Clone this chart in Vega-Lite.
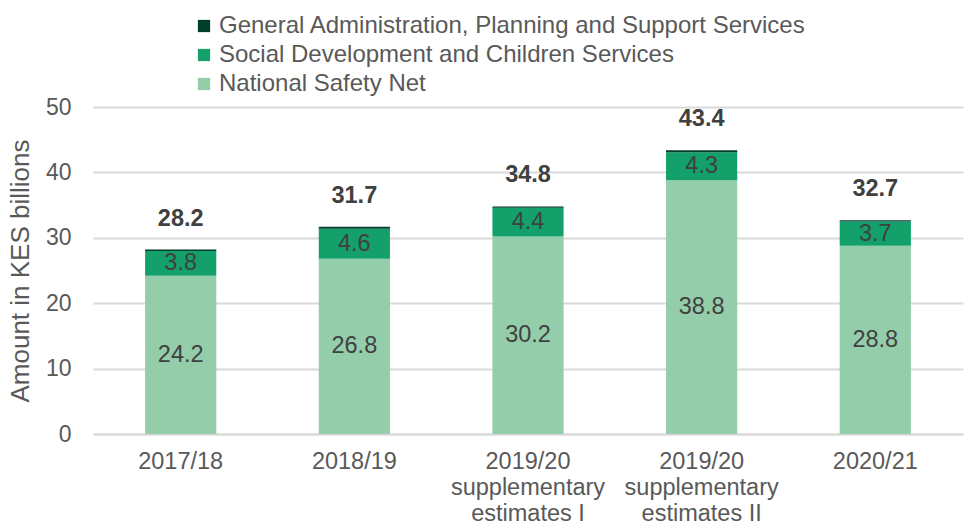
{
  "$schema": "https://vega.github.io/schema/vega-lite/v6.json",
  "width": 870,
  "height": 327,
  "autosize": {"type": "none"},
  "padding": {"left": 93, "top": 107, "right": 1, "bottom": 92},
  "background": "white",
  "config": {
    "font": "Liberation Sans",
    "view": {"stroke": null},
    "axis": {"labelColor": "#595959", "titleColor": "#595959", "labelFont": "Liberation Sans", "titleFont": "Liberation Sans"}
  },
  "datasets": {
    "segs": [
      {"year": "2017/18", "program": "National Safety Net", "value": 24.2, "ord": 1},
      {"year": "2017/18", "program": "Social Development and Children Services", "value": 3.8, "ord": 2},
      {"year": "2017/18", "program": "General Administration, Planning and Support Services", "value": 0.2, "ord": 3},
      {"year": "2018/19", "program": "National Safety Net", "value": 26.8, "ord": 1},
      {"year": "2018/19", "program": "Social Development and Children Services", "value": 4.6, "ord": 2},
      {"year": "2018/19", "program": "General Administration, Planning and Support Services", "value": 0.3, "ord": 3},
      {"year": "2019/20|supplementary|estimates I", "program": "National Safety Net", "value": 30.2, "ord": 1},
      {"year": "2019/20|supplementary|estimates I", "program": "Social Development and Children Services", "value": 4.4, "ord": 2},
      {"year": "2019/20|supplementary|estimates I", "program": "General Administration, Planning and Support Services", "value": 0.2, "ord": 3},
      {"year": "2019/20|supplementary|estimates II", "program": "National Safety Net", "value": 38.8, "ord": 1},
      {"year": "2019/20|supplementary|estimates II", "program": "Social Development and Children Services", "value": 4.3, "ord": 2},
      {"year": "2019/20|supplementary|estimates II", "program": "General Administration, Planning and Support Services", "value": 0.3, "ord": 3},
      {"year": "2020/21", "program": "National Safety Net", "value": 28.8, "ord": 1},
      {"year": "2020/21", "program": "Social Development and Children Services", "value": 3.7, "ord": 2},
      {"year": "2020/21", "program": "General Administration, Planning and Support Services", "value": 0.2, "ord": 3}
    ],
    "totals": [
      {"year": "2017/18", "total": 28.2},
      {"year": "2018/19", "total": 31.7},
      {"year": "2019/20|supplementary|estimates I", "total": 34.8},
      {"year": "2019/20|supplementary|estimates II", "total": 43.4},
      {"year": "2020/21", "total": 32.7}
    ]
  },
  "encoding": {
    "x": {
      "field": "year", "type": "nominal", "sort": null,
      "scale": {"paddingInner": 0.59, "paddingOuter": 0.3},
      "axis": {"title": null, "labelAngle": 0, "labelFontSize": 23.5, "labelExpr": "split(datum.value, '|')", "labelLineHeight": 26, "ticks": false, "domainColor": "#d9d9d9", "domainWidth": 2, "labelPadding": 15, "labelOverlap": false, "labelLimit": 300}
    }
  },
  "layer": [
    {
      "data": {"name": "segs"},
      "mark": {"type": "bar"},
      "encoding": {
        "y": {"field": "value", "type": "quantitative", "stack": "zero",
          "scale": {"domain": [0, 50]},
          "axis": {"title": "Amount in KES billions", "titleFontSize": 26, "titleFontWeight": "normal", "titlePadding": 12, "labelFontSize": 23, "values": [0, 10, 20, 30, 40, 50], "ticks": false, "domain": false, "gridColor": "#d9d9d9", "gridWidth": 2, "labelPadding": 22, "labelOverlap": false}
        },
        "color": {
          "field": "program", "type": "nominal",
          "scale": {
            "domain": ["General Administration, Planning and Support Services", "Social Development and Children Services", "National Safety Net"],
            "range": ["#003d2a", "#13a06a", "#93cdaa"]
          },
          "legend": {"title": null, "orient": "none", "legendX": 99, "legendY": -93, "direction": "vertical", "symbolType": "square", "symbolSize": 150, "labelFontSize": 24, "labelColor": "#595959", "rowPadding": 5, "labelOffset": 3, "symbolStrokeWidth": 0, "labelLimit": 800}
        },
        "order": {"field": "ord", "type": "quantitative"}
      }
    },
    {
      "data": {"name": "segs"},
      "transform": [{"filter": "datum.ord < 3"}],
      "mark": {"type": "text", "fontSize": 23.5, "color": "#404040"},
      "encoding": {
        "y": {"field": "value", "type": "quantitative", "stack": "zero", "bandPosition": 0.5},
        "order": {"field": "ord", "type": "quantitative"},
        "text": {"field": "value", "type": "quantitative", "format": ".1f"}
      }
    },
    {
      "data": {"name": "totals"},
      "mark": {"type": "text", "fontSize": 23.5, "fontWeight": "bold", "color": "#404040", "baseline": "alphabetic", "dy": -24},
      "encoding": {
        "y": {"field": "total", "type": "quantitative"},
        "text": {"field": "total", "type": "quantitative", "format": ".1f"}
      }
    }
  ]
}
